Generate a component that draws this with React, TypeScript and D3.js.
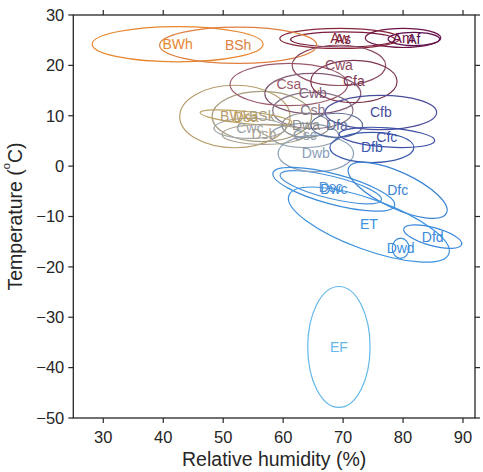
import * as d3 from "d3";

const W = 483;
const H = 472;
const M = { left: 73.3, right: 8, top: 15, bottom: 54 };

// Köppen class, centre (RH %, T °C), half-widths, tilt (deg), colour
const classes = ["Af", "Am", "As", "Aw", "BWh", "BSh", "BWk", "BSk", "Csa", "Csb", "Csc", "Cwa", "Cwb", "Cwc", "Cfa", "Cfb", "Cfc", "Dsa", "Dsb", "Dsc", "Dwa", "Dwb", "Dwc", "Dwd", "Dfa", "Dfb", "Dfc", "Dfd", "ET", "EF"];
const humidity = [81.8, 80.0, 69.95, 69.45, 42.4, 52.5, 51.95, 56.45, 60.95, 64.95, 63.6, 69.3, 64.95, 54.45, 71.8, 76.3, 77.3, 53.8, 56.8, 67.95, 63.8, 65.45, 68.45, 79.6, 68.95, 74.8, 79.1, 84.95, 74.3, 69.3];
const temperature = [25.25, 25.45, 25.15, 25.35, 24.2, 24.0, 9.85, 9.85, 16.2, 11.05, 6.1, 20.0, 14.4, 7.5, 16.8, 10.65, 5.7, 9.65, 6.3, -4.2, 8.1, 2.5, -4.6, -16.3, 8.1, 3.7, -4.8, -14.0, -11.6, -35.9];
const rhSpread = [4.3, 6.3, 8.7, 10.0, 14.25, 13.1, 9.2, 8.3, 9.8, 6.7, 5.7, 7.8, 8.0, 6.0, 7.2, 9.3, 8.0, 7.7, 7.0, 8.7, 4.0, 6.3, 10.5, 1.4, 4.3, 7.0, 9.0, 5.0, 14.2, 5.2];
const tSpread = [1.3, 1.9, 1.5, 2.0, 3.5, 3.6, 6.2, 5.0, 4.2, 3.6, 2.4, 4.0, 4.0, 2.0, 4.2, 3.4, 1.9, 1.2, 2.0, 2.2, 2.4, 3.6, 3.0, 2.0, 2.4, 3.0, 3.6, 1.8, 5.0, 12.0];
const tilt = [0, 0, 0, 0, 0, 0, 0, 0, 0, 0, 0, 0, 0, 0, 0, 0, 4, 6, 0, 14, 0, 0, 15, 0, 0, 0, 25, 15, 20, 0];
const colors = ["#5a0e4e", "#6b1449", "#7a1c3e", "#86283c", "#e8862e", "#df7f40", "#b89c6c", "#a59c7c", "#9b5a6a", "#857584", "#8c9aaa", "#8c4c5e", "#845a76", "#9aa2a8", "#7c3450", "#4a4c9c", "#3c4ea6", "#bca060", "#aaa28e", "#4a92da", "#8c8c8c", "#8aa0b8", "#3d8cda", "#3a8ede", "#5a6a9a", "#3a58ae", "#3a84d4", "#3a88dc", "#3b92e0", "#62b8e8"];

const xTicks = [30, 40, 50, 60, 70, 80, 90];
const yTicks = [-50, -40, -30, -20, -10, 0, 10, 20, 30];

const FONT = "'Liberation Sans', Arial, sans-serif";

export default function App() {
  const x = d3.scaleLinear().domain([25, 92]).range([M.left, W - M.right]);
  const y = d3.scaleLinear().domain([-50, 30]).range([H - M.bottom, M.top]);
  const fmt = d3.format("d");
  const x0 = x.range()[0], x1 = x.range()[1];
  const y0 = y.range()[0], y1 = y.range()[1];
  const tl = 5;

  return (
    <svg width={W} height={H} style={{ position: "absolute", left: 0, top: 0, background: "#fff" }} fontFamily={FONT}>
      <defs>
        <clipPath id="plot">
          <rect x={x0} y={y1} width={x1 - x0} height={y0 - y1} />
        </clipPath>
      </defs>

      <g clipPath="url(#plot)">
        {classes.map((c, i) => {
          const cx = x(humidity[i]);
          const cy = y(temperature[i]);
          return (
            <ellipse key={c} cx={cx} cy={cy}
              rx={x(humidity[i] + rhSpread[i]) - cx}
              ry={cy - y(temperature[i] + tSpread[i])}
              transform={`rotate(${tilt[i]},${cx},${cy})`}
              fill="none" stroke={colors[i]} strokeWidth={1.2} />
          );
        })}
        {classes.map((c, i) => (
          <text key={c} x={x(humidity[i])} y={y(temperature[i])} dy="0.35em"
            textAnchor="middle" fontSize={14} fill={colors[i]}>{c}</text>
        ))}
      </g>

      {/* frame */}
      <rect x={x0} y={y1} width={x1 - x0} height={y0 - y1} fill="none" stroke="#262626" strokeWidth={1.3} />

      {xTicks.map(t => (
        <g key={t}>
          <line x1={x(t)} x2={x(t)} y1={y0} y2={y0 + tl} stroke="#262626" strokeWidth={1.2} />
          <line x1={x(t)} x2={x(t)} y1={y1} y2={y1 - tl} stroke="#262626" strokeWidth={1.2} />
          <text x={x(t)} y={y0 + 25} textAnchor="middle" fontSize={16.5} fill="#262626">{fmt(t)}</text>
        </g>
      ))}
      {yTicks.map(t => (
        <g key={t}>
          <line x1={x0} x2={x0 - tl} y1={y(t)} y2={y(t)} stroke="#262626" strokeWidth={1.2} />
          <line x1={x1} x2={x1 + tl} y1={y(t)} y2={y(t)} stroke="#262626" strokeWidth={1.2} />
          <text x={x0 - 9} y={y(t)} dy="0.35em" textAnchor="end" fontSize={16.5} fill="#262626">{fmt(t)}</text>
        </g>
      ))}

      <text x={(x0 + x1) / 2} y={H - 6} textAnchor="middle" fontSize={19.5} fill="#262626">Relative humidity (%)</text>
      <text transform={`translate(22,${(y0 + y1) / 2}) rotate(-90)`} textAnchor="middle" fontSize={19.5} fill="#262626">
        Temperature (<tspan fontSize={11} dy="-12">o</tspan><tspan dy="12">C)</tspan>
      </text>
    </svg>
  );
}
